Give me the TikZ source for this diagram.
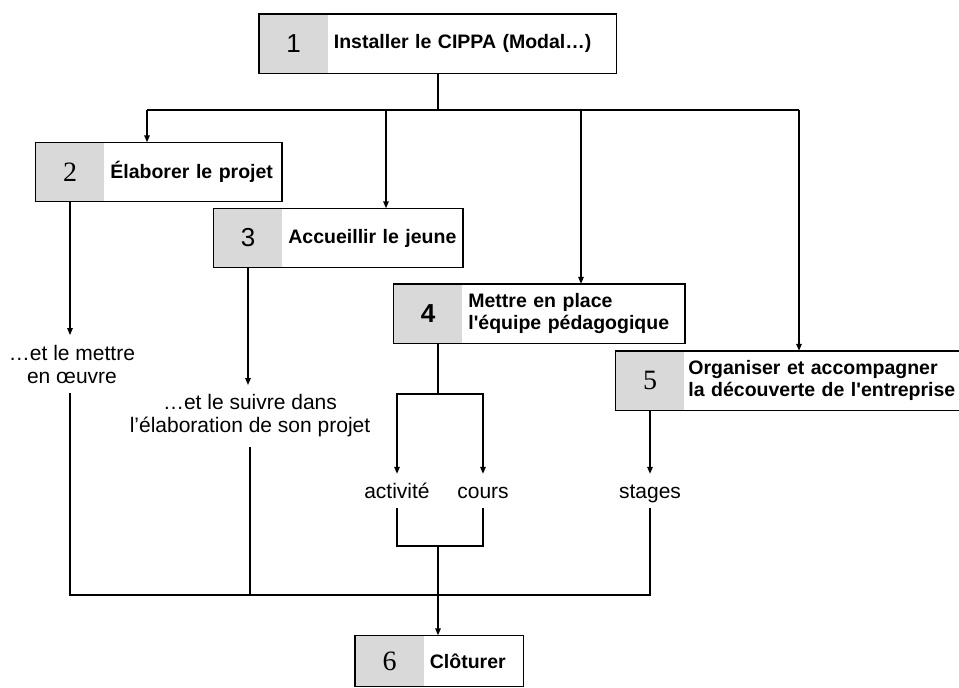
\documentclass[tikz,border=0pt]{standalone}
\usepackage{fontspec}
\setmainfont{Liberation Sans}
\newfontfamily\serifnum{Liberation Serif}
\usetikzlibrary{positioning, arrows.meta}
\definecolor{boxgray}{gray}{0.85}

\begin{document}
\begin{tikzpicture}[
  x=1pt, y=-1pt,
  line width=1.4pt,
  numbox/.style={
    fill=boxgray, minimum width=68pt, minimum height=58pt, inner sep=0pt,
    font=\serifnum\fontsize{28}{30}\selectfont
  },
  numsans/.style={numbox, font=\fontsize{26}{28}\selectfont},
  txtbox/.style={
    minimum height=58pt, inner xsep=5pt, inner ysep=0pt, align=left,
    font=\bfseries\fontsize{19.5}{22}\selectfont
  },
  boxframe/.style={draw, line width=1.4pt},
  lbl/.style={
    align=center, inner xsep=2pt, inner ysep=9pt,
    font=\fontsize{21}{23}\selectfont
  },
  word/.style={lbl, text height=15pt, text depth=0pt},
  wire/.style={draw},
  arr/.style={draw, -{Triangle[length=7pt, width=5.5pt]}},
]
\useasboundingbox (0,0) rectangle (959,688);

% boxes 1 to 6
\node[numsans] (n1) at (293.5,43.5) {1};
\node[txtbox, text width=277pt, right=0pt of n1] (t1) {Installer le CIPPA (Modal…)};
\draw[boxframe] (n1.north west) rectangle (t1.south east);

\node[numbox] (n2) at (70,172) {2};
\node[txtbox, text width=166pt, right=0pt of n2] (t2) {Élaborer le projet};
\draw[boxframe] (n2.north west) rectangle (t2.south east);

\node[numsans] (n3) at (248,238) {3};
\node[txtbox, text width=169pt, right=0pt of n3] (t3) {Accueillir le jeune};
\draw[boxframe] (n3.north west) rectangle (t3.south east);

\node[numsans, font=\bfseries\fontsize{26}{28}\selectfont] (n4) at (428,313.5) {4};
\node[txtbox, text width=211pt, right=0pt of n4] (t4) {Mettre en place\\l\textquotesingle équipe pédagogique};
\draw[boxframe] (n4.north west) rectangle (t4.south east);

% box 5 runs to the right edge
\node[numbox] (n5) at (650,380.5) {5};
\node[txtbox, inner xsep=3pt, text width=269pt, right=0pt of n5] (t5) {Organiser et accompagner\\la découverte de l\textquotesingle entreprise};
\draw[boxframe] (n5.north west) rectangle (t5.south east);

\node[numbox, minimum height=50pt] (n6) at (389.5,661) {6};
\node[txtbox, minimum height=50pt, text width=88pt, right=0pt of n6] (t6) {Clôturer};
\draw[boxframe] (n6.north west) rectangle (t6.south east);

% labels
\node[lbl] (l2) at (72,364) {…et le mettre\\en œuvre};
\node[lbl] (l3) at (250,416) {…et le suivre dans\\l’élaboration de son projet};
\node[word] (la) at (397,491) {activité};
\node[word] (lc) at (483,491) {cours};
\node[word] (ls) at (650,491) {stages};

% from 1 to 2..5
\coordinate (j1) at (438,110);
\coordinate (a2) at (147,110);
\coordinate (a3) at (386,110);
\coordinate (a4) at (581,110);
\coordinate (a5) at (799,110);
\draw[wire] (t1.south -| j1) -- (j1);
\draw[wire] (a2) -- (a5);
\foreach \k in {2,...,5}
  \draw[arr] (a\k) -- (a\k |- t\k.north);

% down the branches
\draw[arr] (n2.south) -- (n2.south |- l2.north);
\draw[arr] (n3.south) -- (n3.south |- l3.north);
\draw[arr] (n5.south) -- (ls.north);

\coordinate (j4) at (438,394);
\draw[wire] (j4 |- n4.south) -- (j4);
\draw[arr] (j4) -| (la.north);
\draw[arr] (j4) -| (lc.north);

% join towards 6
\coordinate (j6) at (438,546);
\coordinate (bb) at (438,595);
\draw[wire] (la.south) |- (j6) -| (lc.south);
\draw[wire] (l2.south -| n2.south) |- (bb) -| (ls.south);
\draw[wire] (l3.south) -- (l3.south |- bb);
\draw[arr] (j6) -- (j6 |- t6.north);

\end{tikzpicture}
\end{document}
